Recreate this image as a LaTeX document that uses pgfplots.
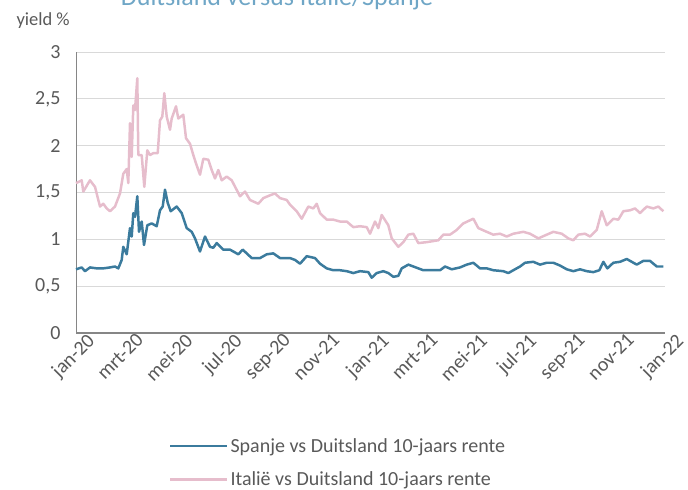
\documentclass[border=0pt]{standalone}
\usepackage{pgfplots}
\pgfplotsset{compat=1.18}
\usepackage{pgfplotstable}
\usepackage{fontspec}
\setmainfont{Carlito}
\definecolor{spblue}{HTML}{3B7B9D}
\definecolor{itpink}{HTML}{E6BDCC}
\definecolor{txtgray}{HTML}{595959}
\definecolor{gridgray}{HTML}{D9D9D9}
\definecolor{axgray}{HTML}{868686}
\definecolor{titleblue}{HTML}{6FA6C6}

% x in chart pixels (76 = jan-20, 24.54 px per month), y = spread in %
\pgfplotstableread{
x y
76 1.60
81.7 1.63
83.3 1.51
88.3 1.60
90 1.63
95 1.56
100 1.35
103.3 1.38
106.7 1.33
110 1.30
115 1.35
120 1.49
123.3 1.70
126.7 1.75
128.3 1.60
130 2.24
131.7 1.88
133.3 2.43
135 2.38
137.3 2.72
138.3 1.90
141.7 1.90
144.3 1.56
147.3 1.95
150 1.90
153.3 1.92
157.7 1.92
160 2.27
162.3 2.31
164.3 2.56
166.7 2.31
170 2.17
171.7 2.29
176 2.42
178.3 2.29
183.3 2.33
186 2.08
190 2.02
193.3 1.90
196 1.81
200 1.69
203.3 1.86
208.3 1.85
211.7 1.74
215 1.65
218.3 1.74
221.7 1.63
226.7 1.67
231.7 1.63
240 1.46
245 1.51
250 1.42
258.3 1.38
263.3 1.44
270 1.47
275 1.49
280 1.44
286.7 1.42
290 1.37
296.7 1.30
301.7 1.22
308.3 1.35
313.3 1.33
316.7 1.38
320 1.28
326.7 1.21
333.3 1.21
340 1.19
346.7 1.19
353.3 1.13
360 1.14
366.7 1.13
370 1.06
375 1.19
378.3 1.12
381.7 1.26
388.3 1.15
391.7 1.01
398.3 0.92
403.3 0.97
408.3 1.05
413.3 1.06
418.3 0.96
426.7 0.97
438.3 0.99
443.3 1.05
450 1.05
456.7 1.10
463.3 1.17
473.3 1.22
478.3 1.12
486.7 1.08
493.3 1.05
500 1.06
506.7 1.03
513.3 1.06
523.3 1.08
530 1.06
538.3 1.01
546.7 1.05
553.3 1.08
561.7 1.06
568.3 1.01
573.3 0.99
578.3 1.05
585 1.06
590 1.03
596.7 1.10
601.7 1.30
606.7 1.15
613.3 1.22
618.3 1.21
623.3 1.30
630 1.31
635 1.33
640 1.28
646.7 1.35
653.3 1.33
658.3 1.35
663.3 1.30
}\italy

\pgfplotstableread{
x y
76 0.68
81.7 0.70
85 0.66
90 0.70
96.7 0.69
103.3 0.69
110 0.70
115 0.71
118.3 0.69
121.7 0.78
123.3 0.92
126.7 0.84
130 1.12
131.7 1.03
133.3 1.28
135 1.24
137.3 1.46
139 1.08
141.7 1.19
144 0.94
147.3 1.15
151.7 1.17
156.7 1.14
160 1.31
162.7 1.35
165 1.53
167.7 1.39
170.7 1.30
176.7 1.35
181.7 1.28
186.7 1.12
191.7 1.08
195 1.01
200 0.87
205 1.03
210 0.92
213.3 0.91
216.7 0.96
223.3 0.89
230 0.89
238.3 0.84
242.7 0.89
251.7 0.80
260 0.80
266.7 0.84
273.3 0.85
280 0.80
290 0.80
295 0.78
300 0.74
306.7 0.82
315 0.80
320 0.74
326.7 0.69
333.3 0.67
340 0.67
346.7 0.66
353.3 0.64
360 0.66
368.3 0.65
371.7 0.59
376.7 0.64
383.3 0.66
388.3 0.64
393.3 0.60
398.3 0.61
401.7 0.69
408.3 0.73
413.3 0.71
418.3 0.69
423.3 0.67
431.7 0.67
440 0.67
445 0.71
451.7 0.68
460 0.70
466.7 0.73
473.3 0.75
480 0.69
486.7 0.69
493.3 0.67
503.3 0.66
508.3 0.64
513.3 0.67
520 0.71
525 0.75
533.3 0.76
540 0.73
546.7 0.75
553.3 0.75
560 0.72
566.7 0.68
573.3 0.66
580 0.68
586.7 0.66
593.3 0.65
599.3 0.67
603.3 0.76
607.3 0.69
613.3 0.75
620 0.76
626.7 0.79
631.7 0.76
636.7 0.73
643.3 0.77
650 0.77
656.7 0.71
663.3 0.71
}\spain

\begin{document}
\begin{tikzpicture}
\path[use as bounding box] (0,0) rectangle (688bp,490bp);
\node[anchor=base, text=titleblue, font=\fontsize{26bp}{30bp}\selectfont] at (277bp,484bp) {Duitsland versus Italië/Spanje};
\node[anchor=base west, text=txtgray, font=\fontsize{18.5bp}{22bp}\selectfont] at (13bp,464bp) {yield \%};
\begin{axis}[
  at={(76bp,157bp)}, anchor=south west,
  scale only axis, width=589bp, height=281bp,
  xmin=0, xmax=24, ymin=0, ymax=3,
  axis lines*=left,
  axis line style={axgray, line width=1pt},
  x axis line style={line width=1.5pt},
  ytick={0,0.5,...,3},
  yticklabels={0,{0,5},1,{1,5},2,{2,5},3},
  xtick={0,2,...,24},
  xticklabels={jan-20,mrt-20,mei-20,jul-20,sep-20,nov-21,jan-21,mrt-21,mei-21,jul-21,sep-21,nov-21,jan-22},
  ymajorgrids, grid style={gridgray, line width=1pt},
  tick style={draw=none},
  major tick length=0pt,
  ticklabel style={text=txtgray, font=\fontsize{20bp}{23bp}\selectfont},
  yticklabel style={xshift=-12bp},
  xticklabel style={rotate=45, anchor=north east, xshift=11bp, yshift=-3bp},
  legend style={at={(0.445,-0.36)}, anchor=north, draw=none, fill=none,
    text=txtgray, font=\fontsize{20bp}{23bp}\selectfont,
    row sep=14bp, legend cell align=left},
  legend image code/.code={\draw[#1, line width=2.5pt] (0bp,0bp) -- (45bp,0bp); \path (0bp,0bp) -- (57bp,0bp);},
  every axis plot/.append style={line width=2.5pt, line join=round},
  clip=false,
]
\addplot[color=spblue, mark=none] table[x expr={(\thisrow{x}-76)/24.54}, y=y] {\spain};
\addlegendentry{Spanje vs Duitsland 10-jaars rente}
\addplot[color=itpink, mark=none] table[x expr={(\thisrow{x}-76)/24.54}, y=y] {\italy};
\addlegendentry{Italië vs Duitsland 10-jaars rente}
\end{axis}
\end{tikzpicture}
\end{document}
